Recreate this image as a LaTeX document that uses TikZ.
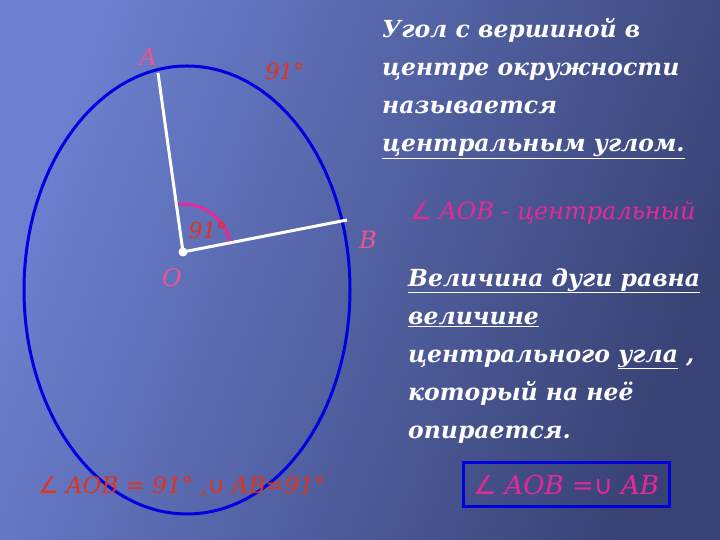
\documentclass[tikz,border=0pt]{standalone}
\usepackage{fontspec}
\setmainfont{DejaVu Serif}
\newfontfamily\symfont{DejaVu Sans}
\usetikzlibrary{positioning,calc}
\definecolor{bgdark}{RGB}{56,66,116}
\definecolor{bglight}{RGB}{108,128,208}
\definecolor{ringblue}{RGB}{0,0,225}
\definecolor{lblpink}{RGB}{238,85,140}
\definecolor{arcpink}{RGB}{232,40,150}
\definecolor{degred}{RGB}{228,50,25}
\newcommand{\angsym}{{\symfont ∠}}
\newcommand{\arcsym}{{\symfont ∪}}
\tikzset{
  ptlabel/.style={text=lblpink, inner sep=0pt, font=\fontsize{24}{24}\selectfont\itshape},
  deglabel/.style={text=degred, inner sep=0pt, font=\fontsize{22}{22}\selectfont\itshape},
  ruletext/.style={text=white, inner sep=0pt, anchor=north west, align=left,
    font=\fontsize{23.5}{38}\selectfont\bfseries\itshape},
  formula/.style={text=arcpink, inner sep=0pt, font=\fontsize{24}{24}\selectfont\itshape}
}
\begin{document}
\begin{tikzpicture}[x=1pt,y=1pt]
  % background
  \shade[left color=bglight, right color=bgdark, shading angle=70] (0,0) rectangle (720,540);
  \useasboundingbox (0,0) rectangle (720,540);

  % circle and radii
  \draw[ringblue, line width=3pt] (187,250) ellipse (163 and 224);
  \coordinate (O) at (183,288);
  \coordinate (A) at (158,467);
  \coordinate (B) at (347,320);
  \draw[arcpink, line width=3pt] ($(O)+(98:48)$) arc (98:11:48);
  \draw[white, line width=3pt] (A) -- (O) -- (B);
  \fill[white] (O) circle (4.5);

  \node[ptlabel] (labA) at (148,483) {A};
  \node[ptlabel] (labO) at (172,262) {O};
  \node[ptlabel] (labB) at (368,300) {B};
  \node[deglabel] (angdeg) at (208,310) {91°};
  \node[deglabel] (arcdeg) at (285,469) {91°};

  % right hand text
  \node[ruletext] (def) at (382,522) {Угол с вершиной в\\центре окружности\\называется\\\underline{центральным углом.}};
  \node[formula, anchor=west] (central) at (410,327) {\angsym\ AOB - центральный};
  \node[ruletext] (rule) at (408,272) {\underline{Величина дуги равна}\\\underline{величине}\\центрального \underline{угла} ,\\который на неё\\опирается.};

  % formulas at the bottom
  \node[deglabel, anchor=west, font=\fontsize{23}{23}\selectfont\itshape] (example) at (38,53) {\angsym\ AOB = 91° ,\arcsym\ AB=91°};
  \node[draw=ringblue, line width=3pt, minimum width=206pt, minimum height=44pt] (box) at (566,55) {};
  \node[formula, font=\fontsize{26}{26}\selectfont\itshape] (equal) at (box) {\angsym\ AOB =\arcsym\ AB};
\end{tikzpicture}
\end{document}
